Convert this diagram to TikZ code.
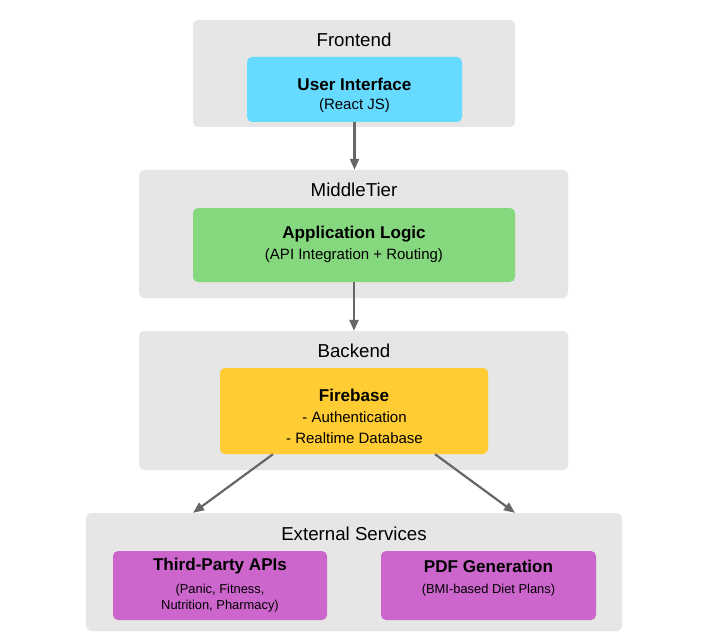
\documentclass[tikz,border=0pt]{standalone}
\usepackage{fontspec}
\setmainfont{Liberation Sans}
\usetikzlibrary{arrows.meta,calc}
\definecolor{grp}{HTML}{E6E6E6}
\definecolor{cyanbox}{HTML}{66DAFF}
\definecolor{greenbox}{HTML}{86D87F}
\definecolor{yellowbox}{HTML}{FFCC33}
\definecolor{magbox}{HTML}{CC66CC}
\definecolor{arr}{HTML}{666666}
\tikzset{
  group/.style={fill=grp, draw=none, rounded corners=5pt, inner sep=0pt},
  box/.style={draw=none, rounded corners=5pt, inner sep=0pt},
  gtitle/.style={inner sep=0pt, font=\fontsize{18.7}{22}\selectfont},
  btitle/.style={inner sep=0pt, font=\fontsize{17.1}{20}\selectfont\bfseries},
  bsub/.style={inner sep=0pt, font=\fontsize{15}{18}\selectfont},
  bsmall/.style={inner sep=0pt, font=\fontsize{12.9}{15}\selectfont},
  conn/.style={draw=arr, line width=2.2pt, -{Triangle[length=11pt,width=9pt]}},
}
\begin{document}
\begin{tikzpicture}[x=1pt,y=-1pt]
\useasboundingbox (0,0) rectangle (722,639);
\fill[white] (0,0) rectangle (722,639);
% groups
\node[group, minimum width=322pt, minimum height=107pt] (fe) at (354,73.5) {};
\node[group, minimum width=429pt, minimum height=128pt] (mt) at (353.5,234) {};
\node[group, minimum width=429pt, minimum height=139pt] (be) at (353.5,400.5) {};
\node[group, minimum width=536pt, minimum height=118pt] (ext) at (354,572) {};
% group titles
\node[gtitle] (fet) at (354,40) {Frontend};
\node[gtitle] (mtt) at (354,190) {MiddleTier};
\node[gtitle] (bet) at (354,351) {Backend};
\node[gtitle] (extt) at (354,534) {External Services};
% boxes
\node[box, fill=cyanbox, minimum width=215pt, minimum height=65pt] (ui) at (354.5,89.5) {};
\node[box, fill=greenbox, minimum width=322pt, minimum height=74pt] (app) at (354,245) {};
\node[box, fill=yellowbox, minimum width=268pt, minimum height=86pt] (fb) at (354,411) {};
\node[box, fill=magbox, minimum width=214pt, minimum height=69pt] (tp) at (220,585.5) {};
\node[box, fill=magbox, minimum width=215pt, minimum height=69pt] (pdf) at (488.5,585.5) {};
% box texts
\node[btitle] (uit) at (354.5,84) {User Interface};
\node[bsub] (uis) at (354.5,106) {(React JS)};
\node[btitle] (appt) at (354,234) {Application Logic};
\node[bsub] (apps) at (354,256) {(API Integration + Routing)};
\node[btitle] (fbt) at (354,395) {Firebase};
\node[bsub] (fb1) at (354.5,417) {- Authentication};
\node[bsub] (fb2) at (354.5,438) {- Realtime Database};
\node[btitle] (tpt) at (220,566) {Third-Party APIs};
\node[bsmall] (tp1) at (220,590) {(Panic, Fitness,};
\node[bsmall] (tp2) at (220,606) {Nutrition, Pharmacy)};
\node[btitle] (pdft) at (488.5,566) {PDF Generation};
\node[bsmall] (pdf1) at (488.5,590) {(BMI-based Diet Plans)};
% connectors
\draw[conn] (ui.south) -- (ui.south |- mt.north);
\draw[conn] (app.south) -- (app.south |- be.north);
\coordinate (fbl) at ($(fb.south west)!0.198!(fb.south east)$);
\coordinate (fbr) at ($(fb.south west)!0.802!(fb.south east)$);
\coordinate (extl) at ($(ext.north west)!0.2!(ext.north east)$);
\coordinate (extr) at ($(ext.north west)!0.8!(ext.north east)$);
\draw[conn] (fbl) -- (extl);
\draw[conn] (fbr) -- (extr);
\end{tikzpicture}
\end{document}
